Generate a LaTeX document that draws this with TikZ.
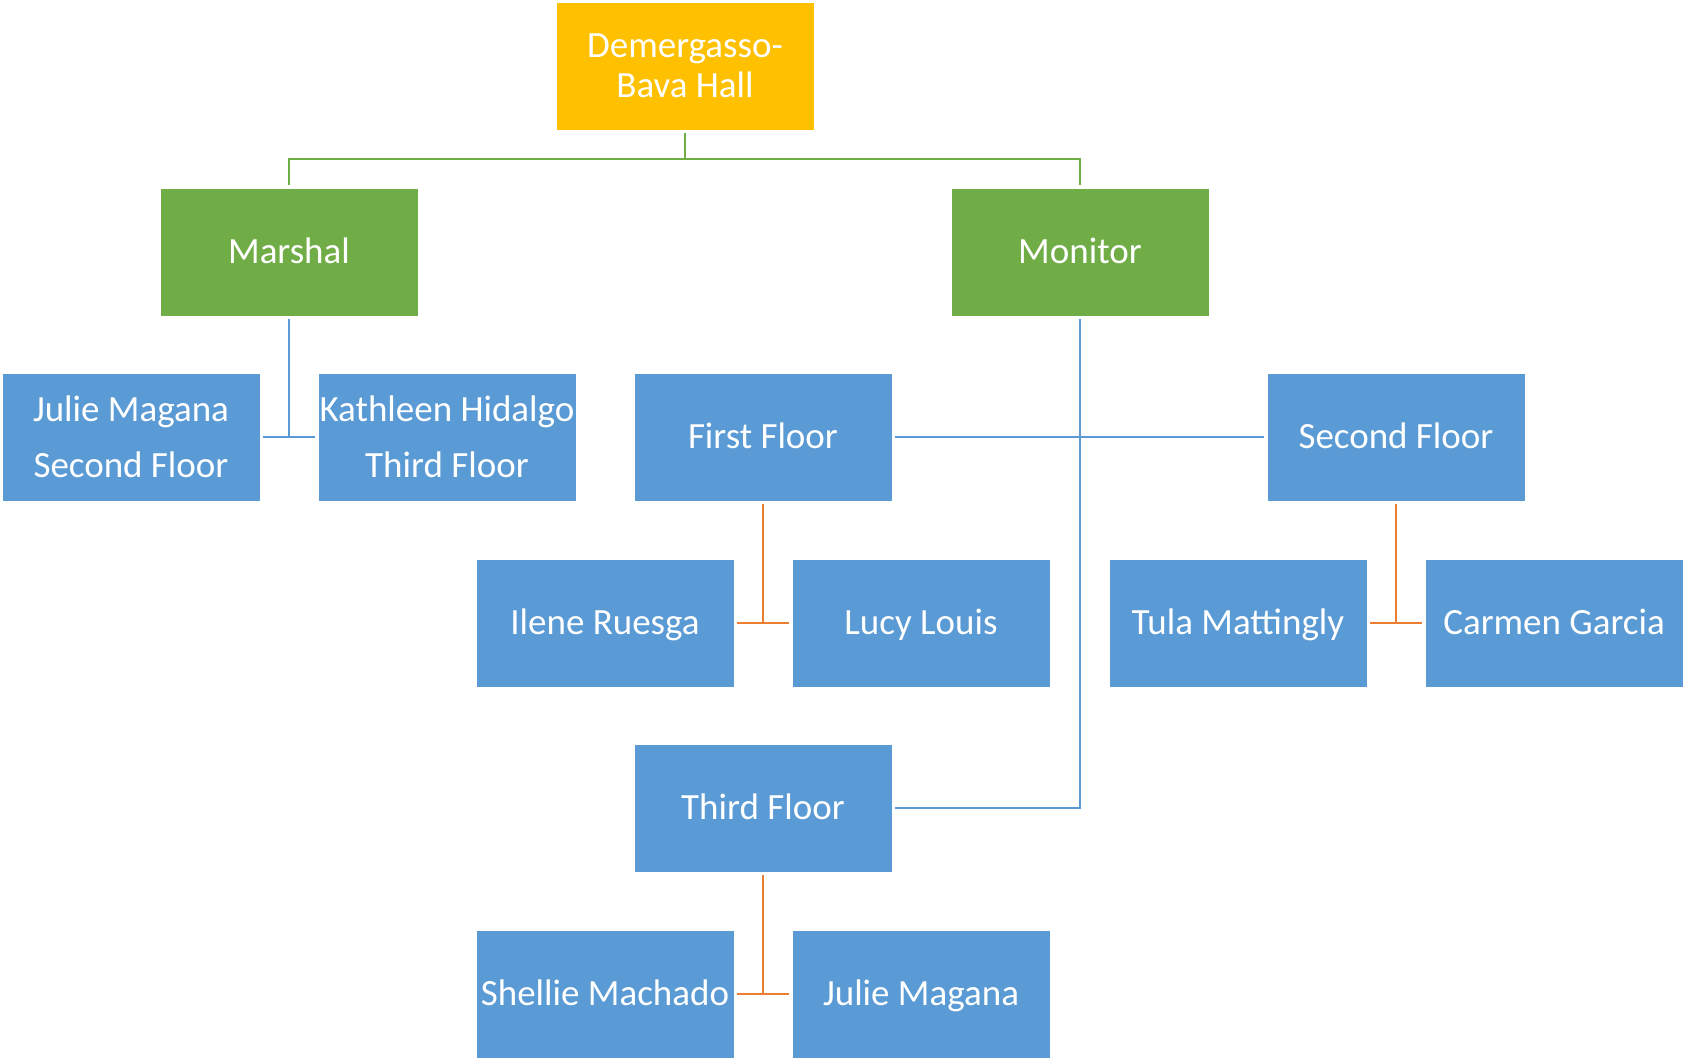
\documentclass[tikz,border=0pt]{standalone}
\usepackage{fontspec}
\setmainfont{Carlito}
\definecolor{gold}{HTML}{FFC000}
\definecolor{lgreen}{HTML}{70AD47}
\definecolor{lblue}{HTML}{5B9BD5}
\definecolor{lorange}{HTML}{ED7D31}
\begin{document}
\begin{tikzpicture}[x=0.5pt,y=-0.5pt,
  box/.style={rectangle, minimum width=129pt, minimum height=64pt, inner sep=0pt,
    text=white, fill=lblue, draw=white, line width=0.4pt, align=center,
    font=\fontsize{18.5}{28}\selectfont},
  onebox/.style={box, text height=13pt, text depth=1.1pt},
  topbox/.style={box, fill=gold, font=\fontsize{18.5}{20}\selectfont},
  greenbox/.style={onebox, fill=lgreen},
  gline/.style={draw=lgreen, line width=1.2pt},
  bline/.style={draw=lblue, line width=1.2pt},
  oline/.style={draw=lorange, line width=1.3pt}]
\useasboundingbox (0,0) rectangle (1683,1059);

\node[topbox] (top) at (685,66) {Demergasso-\\Bava Hall};
\node[greenbox] (marshal) at (289,252) {Marshal};
\node[greenbox] (monitor) at (1080,252) {Monitor};
\node[box] (jm2) at (131,437) {Julie Magana\\Second Floor};
\node[box] (kh) at (447,437) {Kathleen Hidalgo\\Third Floor};
\node[onebox] (ff) at (763,437) {First Floor};
\node[onebox] (sf) at (1396,437) {Second Floor};
\node[onebox] (ir) at (605,623) {Ilene Ruesga};
\node[onebox] (ll) at (921,623) {Lucy Louis};
\node[onebox] (tm) at (1238,623) {Tula Mattingly};
\node[onebox] (cg) at (1554,623) {Carmen Garcia};
\node[onebox] (tf) at (763,808) {Third Floor};
\node[onebox] (sm) at (605,994) {Shellie Machado};
\node[onebox] (jm) at (921,994) {Julie Magana};

\coordinate (gj) at (685,159);
% green connectors
\draw[gline] ([yshift=-1.5pt]top.south) -- (top.south |- gj);
\draw[gline] ([yshift=1.5pt]marshal.north) -- (marshal.north |- gj) -- (monitor.north |- gj) -- ([yshift=1.5pt]monitor.north);
% blue connectors
\draw[bline] ([yshift=-1.5pt]marshal.south) -- (marshal.south |- jm2.east);
\draw[bline] ([xshift=1.5pt]jm2.east) -- ([xshift=-1.5pt]kh.west);
\draw[bline] ([yshift=-1.5pt]monitor.south) |- ([xshift=1.5pt]tf.east);
\draw[bline] ([xshift=1.5pt]ff.east) -- ([xshift=-1.5pt]sf.west);
% orange connectors
\draw[oline] ([yshift=-1.5pt]ff.south) -- (ff.south |- ir.east);
\draw[oline] ([xshift=1.5pt]ir.east) -- ([xshift=-1.5pt]ll.west);
\draw[oline] ([yshift=-1.5pt]sf.south) -- (sf.south |- tm.east);
\draw[oline] ([xshift=1.5pt]tm.east) -- ([xshift=-1.5pt]cg.west);
\draw[oline] ([yshift=-1.5pt]tf.south) -- (tf.south |- sm.east);
\draw[oline] ([xshift=1.5pt]sm.east) -- ([xshift=-1.5pt]jm.west);
\end{tikzpicture}
\end{document}
